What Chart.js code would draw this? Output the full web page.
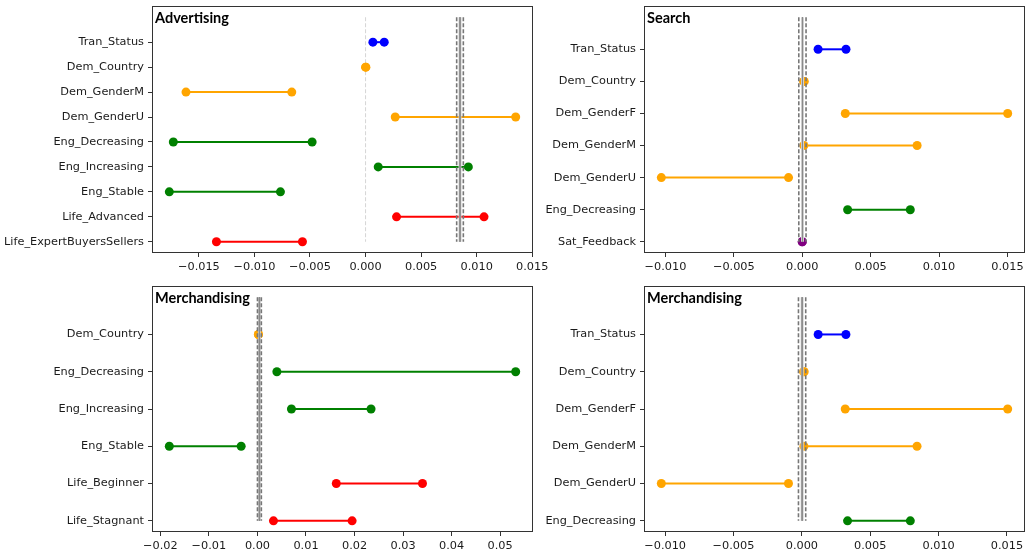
<!DOCTYPE html>
<html>
<head>
<meta charset="utf-8">
<script src="https://cdn.jsdelivr.net/npm/chart.js@4.4.1/dist/chart.umd.min.js"></script>
<style>
  html, body { margin: 0; padding: 0; background: #ffffff; }
  body { width: 1030px; height: 556px; position: relative; overflow: hidden; }
  canvas { position: absolute; }
</style>
</head>
<body>
<canvas id="panelAd" width="560" height="279" style="left:0px;top:0px;"></canvas>
<canvas id="panelSe" width="500" height="279" style="left:530px;top:0px;"></canvas>
<canvas id="panelMe" width="560" height="276" style="left:0px;top:280px;"></canvas>
<canvas id="panelMg" width="500" height="276" style="left:530px;top:280px;"></canvas>
<script>
// ---- Advertising ----
const adCategories = ['Tran_Status', 'Dem_Country', 'Dem_GenderM', 'Dem_GenderU', 'Eng_Decreasing',
  'Eng_Increasing', 'Eng_Stable', 'Life_Advanced', 'Life_ExpertBuyersSellers'];
const adLow  = [0.00066, 0.00000, -0.01616, 0.00267, -0.01730, 0.00114, -0.01766, 0.00279, -0.01342];
const adHigh = [0.00168, 0.00003, -0.00664, 0.01351, -0.00481, 0.00925, -0.00766, 0.01066, -0.00568];
const adBand = [0.0082, 0.0085, 0.0088];          // lower, centre, upper
const adTicks = [-0.015, -0.010, -0.005, 0.000, 0.005, 0.010, 0.015];

// ---- Search ----
const seCategories = ['Tran_Status', 'Dem_Country', 'Dem_GenderF', 'Dem_GenderM', 'Dem_GenderU',
  'Eng_Decreasing', 'Sat_Feedback'];
const seLow  = [0.00116, 0.00010, 0.00315, 0.00012, -0.01030, 0.00332, 0.00000];
const seHigh = [0.00320, 0.00015, 0.01502, 0.00840, -0.00100, 0.00790, 0.00000];
const seBand = [-0.00025, 0.00002, 0.00028];
const seTicks = [-0.010, -0.005, 0.000, 0.005, 0.010, 0.015];

// ---- Merchandising (lifecycle) ----
const meCategories = ['Dem_Country', 'Eng_Decreasing', 'Eng_Increasing', 'Eng_Stable', 'Life_Beginner', 'Life_Stagnant'];
const meLow  = [0.0002, 0.0040, 0.0070, -0.01816, 0.01624, 0.0033];
const meHigh = [0.0002, 0.0532, 0.0234, -0.00336, 0.03400, 0.0195];
const meBand = [0.0000, 0.0004, 0.0008];
const meTicks = [-0.02, -0.01, 0.00, 0.01, 0.02, 0.03, 0.04, 0.05];

// ---- Merchandising (demographics) ----
const mgCategories = ['Tran_Status', 'Dem_Country', 'Dem_GenderF', 'Dem_GenderM', 'Dem_GenderU', 'Eng_Decreasing'];
const mgLow  = [0.00119, 0.00012, 0.00317, 0.00015, -0.01028, 0.00334];
const mgHigh = [0.00322, 0.00017, 0.01505, 0.00842, -0.00098, 0.00793];
const mgBand = [-0.00025, 0.00002, 0.00028];
const mgTicks = [-0.010, -0.005, 0.000, 0.005, 0.010, 0.015];

// colour of each feature group, keyed by name prefix
const groupColors = { Tran: '#0000ff', Dem: '#ffa500', Eng: '#008000', Life: '#ff0000', Sat: '#800080' };
function colorFor(name) { return groupColors[name.split('_')[0]] || '#444444'; }

function fmtTick(v, dec) {
  const s = Math.abs(v).toFixed(dec);
  return (v < -1e-12 ? '\u2212' : '') + s;
}

const TICK_FONT = { family: 'DejaVu Sans', size: 11.3 };

const frameAndTitle = {
  id: 'frameAndTitle',
  afterDraw(chart, args, opts) {
    const { ctx, chartArea: a } = chart;
    ctx.save();
    ctx.strokeStyle = '#333333';
    ctx.lineWidth = 1;
    ctx.strokeRect(Math.round(a.left) + 0.5, Math.round(a.top) + 0.5,
      Math.round(a.right - a.left) - 1, Math.round(a.bottom - a.top) - 1);
    ctx.fillStyle = '#000000';
    ctx.font = 'bold 14.5px Lato';
    ctx.textBaseline = 'alphabetic';
    ctx.textAlign = 'left';
    ctx.fillText(opts.text, a.left + 3, a.top + 17);
    ctx.restore();
  }
};

function buildPanel(id, title, cats, low, high, band, ticks, dec, geo) {
  const n = cats.length;
  const all = low.concat(high);
  const dMin = Math.min(...all), dMax = Math.max(...all);
  const xm = (dMax - dMin) * 0.05;
  const yTop = -1, yBot = n - 1;
  const ym = (yBot - yTop) * 0.05;

  const datasets = [];
  // reference band: dashed bounds and solid centre, drawn above the markers
  const bandSpan = (x) => [{ x: x, y: yTop }, { x: x, y: yBot }];
  datasets.push({ data: bandSpan(band[0]), borderColor: '#777777', borderWidth: 1.6, borderDash: [4, 2], order: 0 });
  datasets.push({ data: bandSpan(band[2]), borderColor: '#777777', borderWidth: 1.6, borderDash: [4, 2], order: 0 });
  datasets.push({ data: bandSpan(band[1]), borderColor: '#cfcfcf', borderWidth: 3, order: 1 });
  datasets.push({ data: bandSpan(band[1]), borderColor: '#8a8a8a', borderWidth: 1, order: 0 });
  // zero reference
  datasets.push({ data: bandSpan(0), borderColor: '#d6d6d6', borderWidth: 1, borderDash: [4, 2], order: 3 });
  // one dumbbell per feature
  cats.forEach((c, i) => {
    const col = colorFor(c);
    datasets.push({
      data: [{ x: low[i], y: i }, { x: high[i], y: i }],
      borderColor: col, backgroundColor: col, borderWidth: 2,
      pointRadius: 4.5, pointBorderWidth: 0, pointBackgroundColor: col,
      order: 2
    });
  });
  datasets.forEach(d => { d.showLine = true; if (d.pointRadius === undefined) d.pointRadius = 0; });

  new Chart(document.getElementById(id), {
    type: 'scatter',
    data: { datasets },
    options: {
      responsive: false,
      animation: false,
      devicePixelRatio: 1,
      events: [],
      layout: { padding: { top: geo.padTop, right: geo.padRight, bottom: 0, left: 0 } },
      plugins: { legend: { display: false }, tooltip: { enabled: false }, frameAndTitle: { text: title } },
      scales: {
        x: {
          type: 'linear',
          min: dMin - xm, max: dMax + xm,
          border: { display: false },
          grid: { display: true, drawOnChartArea: false, drawTicks: true, tickLength: 4, color: '#333333' },
          ticks: { autoSkip: false, maxRotation: 0, padding: 3, color: '#1a1a1a', font: TICK_FONT,
            callback: (v) => fmtTick(v, dec) },
          afterBuildTicks: (s) => { s.ticks = ticks.filter(t => t >= s.min && t <= s.max).map(t => ({ value: t })); },
          afterFit: (s) => { s.height = geo.xH; s.paddingLeft = 0; s.paddingRight = 0; }
        },
        y: {
          type: 'linear',
          reverse: true,
          min: yTop - ym, max: yBot + ym,
          border: { display: false },
          grid: { display: true, drawOnChartArea: false, drawTicks: true, tickLength: 4, color: '#333333' },
          ticks: { autoSkip: false, padding: 4, color: '#1a1a1a', font: TICK_FONT,
            callback: (v) => cats[v] },
          afterBuildTicks: (s) => { s.ticks = cats.map((c, i) => ({ value: i })); },
          afterFit: (s) => { s.width = geo.yW; s.paddingTop = 0; s.paddingBottom = 0; }
        }
      }
    },
    plugins: [frameAndTitle]
  });
}

buildPanel('panelAd', 'Advertising', adCategories, adLow, adHigh, adBand, adTicks, 3,
  { yW: 152, xH: 26, padTop: 6, padRight: 27 });
buildPanel('panelSe', 'Search', seCategories, seLow, seHigh, seBand, seTicks, 3,
  { yW: 114, xH: 26, padTop: 6, padRight: 5 });
buildPanel('panelMe', 'Merchandising', meCategories, meLow, meHigh, meBand, meTicks, 2,
  { yW: 152, xH: 24, padTop: 6, padRight: 27 });
buildPanel('panelMg', 'Merchandising', mgCategories, mgLow, mgHigh, mgBand, mgTicks, 3,
  { yW: 114, xH: 24, padTop: 6, padRight: 5 });
</script>
</body>
</html>
